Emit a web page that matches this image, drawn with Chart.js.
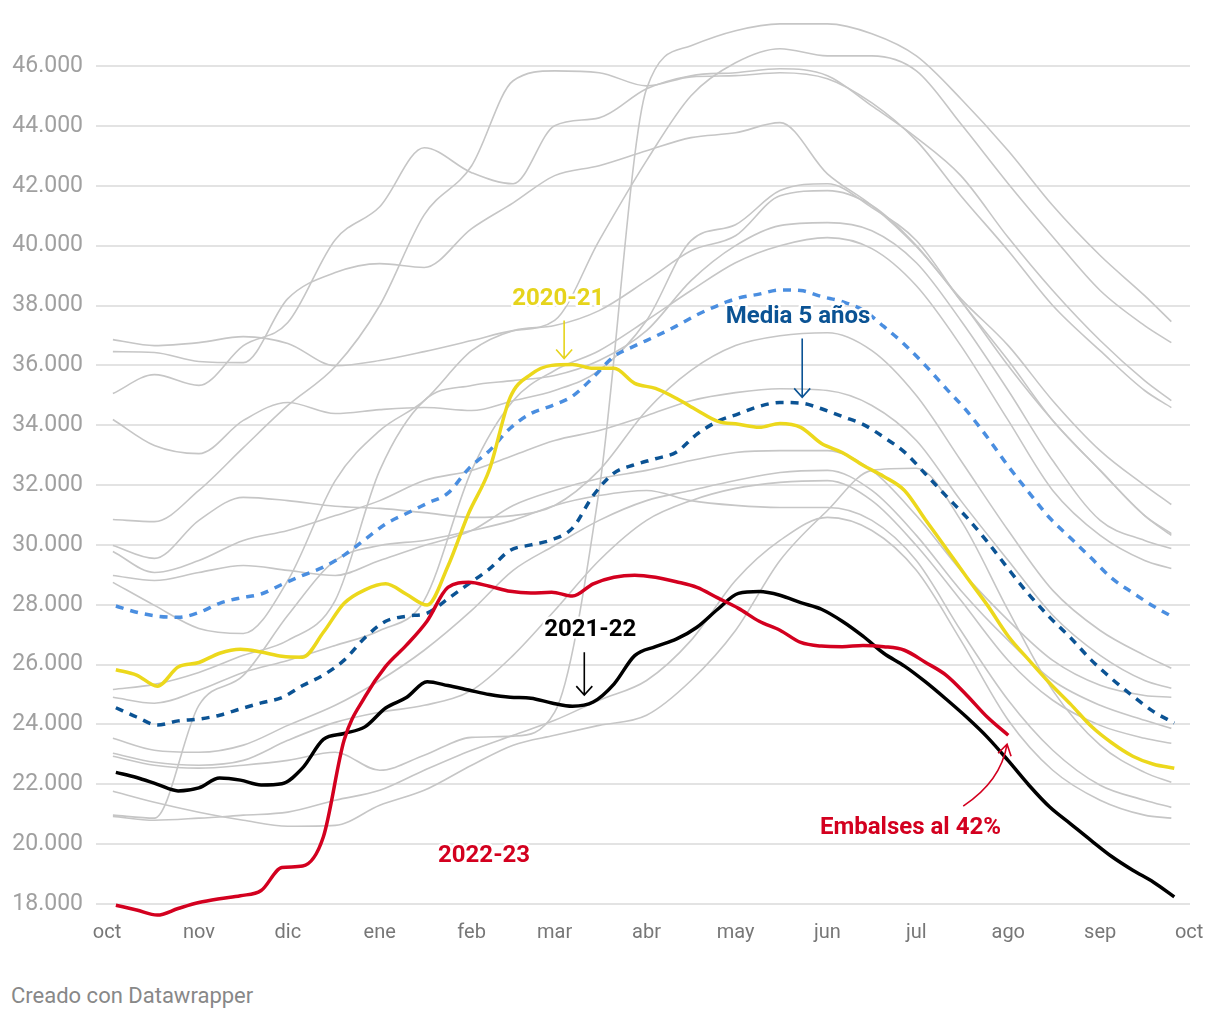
<!DOCTYPE html>
<html lang="es">
<head>
<meta charset="utf-8">
<title>Reserva hídrica</title>
<script src="https://cdn.jsdelivr.net/npm/chart.js@4.4.1/dist/chart.umd.min.js"></script>
<style>
  html, body { margin: 0; padding: 0; background: #fff; }
  .wrap { position: relative; width: 1220px; height: 950px; }
  .credit { position: absolute; left: 11px; top: 983px; font: 22px Roboto, sans-serif; color: #888; }
</style>
</head>
<body>
<div class="wrap"><canvas id="embalsesChart"></canvas></div>
<div class="credit">Creado con Datawrapper</div>
<script>
// dias desde el 1 de octubre
const dias = [3, 10, 17, 24, 31, 38, 45, 52, 59, 66, 73, 80, 87, 94, 101, 108, 115, 122, 129, 136,
  143, 150, 157, 164, 171, 178, 185, 192, 199, 206, 213, 220, 227, 234, 241, 248, 255, 262, 269, 276,
  283, 290, 297, 304, 311, 318, 325, 332, 339, 346, 353, 360];
const diasGris = [2, 16, 31, 46, 61, 77, 92, 107, 123, 137, 151, 166, 182, 197, 212, 227, 243, 258, 273, 288, 304, 319, 335, 350, 359];

const mesTicks = [0, 31, 61, 92, 123, 151, 182, 212, 243, 273, 304, 335, 365];
const mesLabels = ['oct', 'nov', 'dic', 'ene', 'feb', 'mar', 'abr', 'may', 'jun', 'jul', 'ago', 'sep', 'oct'];
const yTicks = [18000, 20000, 22000, 24000, 26000, 28000, 30000, 32000, 34000, 36000, 38000, 40000, 42000, 44000, 46000];

const temp2020 = [25830, 25650, 25280, 25920, 26070, 26380, 26510, 26420, 26280, 26250, 27080, 28050, 28500, 28700, 28350, 27990, 29290, 31060, 32520, 34930,
  35700, 36000, 36030, 35900, 35900, 35400, 35230, 34900, 34500, 34130, 34030, 33930, 34060, 33930, 33390, 33090, 32660, 32290, 31820, 30850,
  29890, 28920, 27980, 26950, 26150, 25380, 24680, 23940, 23380, 22940, 22670, 22540];
const temp2021 = [22400, 22230, 22000, 21780, 21880, 22210, 22140, 21980, 22020, 22550, 23500, 23700, 23920, 24550, 24900, 25430, 25300, 25150, 25000, 24910,
  24880, 24720, 24610, 24750, 25350, 26300, 26600, 26850, 27250, 27850, 28380, 28440, 28320, 28070, 27850, 27450, 26950, 26380, 25950, 25430,
  24850, 24240, 23570, 22790, 21970, 21240, 20680, 20120, 19580, 19130, 18730, 18240];
const temp2022 = [17960, 17800, 17630, 17850, 18050, 18180, 18280, 18450, 19220, 19270, 20250, 23480, 24920, 25940, 26650, 27460, 28580, 28750, 28620, 28450,
  28390, 28420, 28290, 28700, 28920, 28990, 28920, 28770, 28580, 28230, 27880, 27450, 27150, 26740, 26620, 26600, 26640, 26600, 26480, 26080,
  25650, 24980, 24240, 23640];
const media5 = [24560, 24250, 23980, 24120, 24180, 24310, 24520, 24720, 24900, 25300, 25650, 26150, 26900, 27450, 27620, 27720, 28200, 28700, 29200, 29820,
  30000, 30170, 30560, 31650, 32400, 32680, 32880, 33100, 33700, 34130, 34380, 34630, 34760, 34740, 34550, 34290, 34030, 33600, 33100, 32380,
  31640, 30920, 30100, 29200, 28340, 27580, 26900, 26150, 25520, 24950, 24430, 24050];
const media10 = [27960, 27750, 27620, 27580, 27740, 28050, 28230, 28360, 28680, 28980, 29260, 29660, 30180, 30700, 31050, 31390, 31730, 32550, 33150, 33900,
  34390, 34650, 34970, 35600, 36300, 36650, 36970, 37310, 37690, 38000, 38250, 38380, 38520, 38500, 38300, 38130, 37850, 37300, 36700, 36000,
  35230, 34480, 33590, 32630, 31750, 30900, 30230, 29560, 28880, 28400, 27950, 27570];

// temporadas anteriores (gris)
const anosGris = [
  [22940, 22640, 22540, 22640, 22800, 23070, 22470, 22970, 23570, 23610, 24410, 31820, 45240, 46680, 47180, 47410, 47410, 47080, 46340, 44910, 43170, 41340, 39670, 38330, 37460],
  [36460, 36430, 36130, 36090, 38230, 39100, 39400, 39270, 40570, 41430, 42340, 42670, 43170, 43610, 43770, 44110, 42400, 41340, 39970, 38230, 36660, 34820, 33150, 31990, 31350],
  [35060, 35690, 35330, 36660, 37430, 40200, 41300, 43270, 42440, 42070, 44010, 44270, 45240, 45680, 45780, 45910, 45680, 44670, 43610, 42340, 40270, 38500, 36830, 35490, 34820],
  [30850, 30780, 31820, 33250, 34660, 35960, 38000, 41030, 42670, 45510, 45840, 45780, 45340, 45640, 45680, 45780, 45580, 44770, 43510, 41670, 39830, 38000, 36490, 35160, 34590],
  [36860, 36660, 36760, 36960, 36730, 35990, 36160, 36460, 36830, 37160, 37500, 40170, 42840, 45010, 46110, 46580, 46340, 46340, 45840, 44070, 42070, 40300, 38500, 37330, 36760],
  [34190, 33320, 33050, 34160, 34760, 34390, 34520, 34590, 34490, 34820, 35160, 35830, 37500, 40170, 40700, 41840, 42070, 41270, 40170, 38160, 36160, 34160, 32490, 30980, 30380],
  [28750, 27980, 27210, 27040, 28810, 32150, 33820, 34820, 36490, 37160, 37330, 37830, 38830, 39830, 40330, 41670, 41840, 41340, 40000, 38160, 35990, 34160, 32490, 30980, 30320],
  [25170, 25340, 25740, 26310, 26810, 28150, 32490, 34820, 35330, 35490, 35660, 36160, 37160, 38830, 40000, 40670, 40770, 40500, 39430, 37500, 35160, 32820, 30820, 30150, 29880],
  [24910, 24710, 25140, 25740, 26140, 26640, 27140, 28150, 32490, 34820, 35830, 36490, 37500, 38500, 39430, 40000, 40270, 39900, 38660, 36660, 34160, 31820, 30320, 29480, 29210],
  [29980, 29550, 30820, 31590, 31480, 31290, 31220, 31080, 30920, 30980, 31320, 32490, 34490, 35830, 36660, 36990, 37090, 36490, 34990, 32820, 30480, 28480, 27140, 26310, 25880],
  [29780, 29080, 29480, 30150, 30480, 30980, 31480, 32150, 32490, 32990, 33490, 33820, 34320, 34820, 35090, 35220, 35160, 34660, 33490, 31480, 29480, 27650, 26310, 25470, 25210],
  [28980, 28810, 29080, 29310, 29150, 28980, 29480, 29980, 30480, 31320, 31820, 32220, 32490, 32820, 33090, 33150, 33150, 32490, 30980, 29150, 27480, 26140, 25310, 24970, 24910],
  [23540, 23140, 23070, 23310, 23970, 24640, 25470, 26480, 27810, 29150, 29980, 30820, 31480, 31820, 32150, 32420, 32490, 31820, 30320, 28480, 26810, 25470, 24640, 24140, 23870],
  [23040, 22740, 22640, 22800, 23470, 24070, 24410, 24640, 25140, 26310, 27810, 29480, 30820, 31480, 31890, 32090, 32150, 31480, 29980, 28150, 26140, 24810, 23970, 23540, 23370],
  [21770, 21400, 21070, 20800, 20600, 20630, 21300, 21800, 22640, 23310, 23640, 23970, 24310, 25470, 27140, 29480, 31150, 32490, 32560, 30820, 27810, 25140, 23310, 22400, 22070],
  [20970, 20870, 24640, 25640, 27650, 29480, 29980, 30150, 30480, 30820, 31320, 31650, 31820, 31480, 31320, 31250, 31250, 30820, 29480, 27140, 24810, 23140, 21970, 21470, 21230],
  [20930, 20800, 20870, 20970, 21070, 21470, 21800, 22470, 23140, 23640, 24140, 24810, 25470, 26810, 28810, 30150, 30920, 30480, 29150, 26810, 24140, 22470, 21470, 20970, 20870]
];

// anotaciones en coordenadas de datos (dia, hm3)
const etiquetas = [
  { text: '2020-21', dia: 152.2, valor: 38230, color: '#e6d41c' },
  { text: 'Media 5 años', dia: 233.1, valor: 37630, color: '#0b5394' },
  { text: '2021-22', dia: 163, valor: 27150, color: '#000000' },
  { text: '2022-23', dia: 127.2, valor: 19600, color: '#d3001f' },
  { text: 'Embalses al 42%', dia: 271, valor: 20540, color: '#d3001f' }
];
const flechas = [
  { dia: 154.2, desde: 37500, hasta: 36230, color: '#e6d41c' },
  { dia: 234.5, desde: 36900, hasta: 34930, color: '#0b5394' },
  { dia: 161, desde: 26415, hasta: 24980, color: '#000000' }
];

function toPoints(xs, ys) {
  return ys.map((y, i) => ({ x: xs[i], y: y }));
}

function formatMiles(v) {
  return String(v).replace(/\B(?=(\d{3})+(?!\d))/g, '.');
}

document.addEventListener('DOMContentLoaded', function () {
  const ctx = document.getElementById('embalsesChart').getContext('2d');

  const datasets = [];
  anosGris.forEach((serie, i) => {
    datasets.push({
      label: 'gris' + i,
      data: toPoints(diasGris, serie),
      borderColor: '#c6c6c6',
      borderWidth: 1.6,
      order: 10
    });
  });
  datasets.push({ label: 'Media 10 años', data: toPoints(dias, media10), borderColor: '#4a8ee0', borderWidth: 3.5, borderDash: [8, 7], order: 6 });
  datasets.push({ label: 'Media 5 años', data: toPoints(dias, media5), borderColor: '#0b5394', borderWidth: 3.5, borderDash: [8, 7], order: 5 });
  datasets.push({ label: '2020-21', data: toPoints(dias, temp2020), borderColor: '#ecd81c', borderWidth: 3.5, order: 4 });
  datasets.push({ label: '2021-22', data: toPoints(dias, temp2021), borderColor: '#000000', borderWidth: 3.5, order: 3 });
  datasets.push({ label: '2022-23', data: toPoints(dias, temp2022), borderColor: '#d3001f', borderWidth: 3.5, order: 2 });
  datasets.forEach(d => { d.clip = 12; });

  const anotaciones = {
    id: 'anotaciones',
    afterDatasetsDraw(chart) {
      const c = chart.ctx;
      const xs = chart.scales.x;
      const ys = chart.scales.y;
      c.save();

      // flechas rectas
      c.lineWidth = 1.6;
      flechas.forEach(f => {
        const x = xs.getPixelForValue(f.dia);
        const y0 = ys.getPixelForValue(f.desde);
        const y1 = ys.getPixelForValue(f.hasta);
        c.strokeStyle = f.color;
        c.beginPath();
        c.moveTo(x, y0);
        c.lineTo(x, y1);
        c.moveTo(x - 8, y1 - 9);
        c.lineTo(x, y1);
        c.lineTo(x + 8, y1 - 9);
        c.stroke();
      });

      // flecha curva roja
      const x0 = xs.getPixelForValue(288.8), y0 = ys.getPixelForValue(21270);
      const cx = xs.getPixelForValue(301.5), cy = ys.getPixelForValue(22100);
      const x1 = xs.getPixelForValue(303.6), y1 = ys.getPixelForValue(23340);
      c.strokeStyle = '#d3001f';
      c.beginPath();
      c.moveTo(x0, y0);
      c.quadraticCurveTo(cx, cy, x1, y1);
      c.moveTo(x1 - 9, y1 + 9);
      c.lineTo(x1, y1);
      c.lineTo(x1 + 4, y1 + 12);
      c.stroke();

      // textos
      c.font = 'bold 24px Roboto';
      c.textAlign = 'center';
      c.textBaseline = 'middle';
      c.lineJoin = 'round';
      etiquetas.forEach(e => {
        const x = xs.getPixelForValue(e.dia);
        const y = ys.getPixelForValue(e.valor);
        c.lineWidth = 5;
        c.strokeStyle = '#ffffff';
        c.strokeText(e.text, x, y);
        c.fillStyle = e.color;
        c.fillText(e.text, x, y);
      });
      c.restore();
    }
  };

  const embalsesChart = new Chart(ctx, {
    type: 'line',
    data: { datasets: datasets },
    options: {
      responsive: true,
      maintainAspectRatio: false,
      animation: false,
      layout: { padding: { top: 0, right: 30, bottom: 0, left: 0 } },
      elements: {
        point: { radius: 0 },
        line: { cubicInterpolationMode: 'monotone', fill: false, borderCapStyle: 'butt' }
      },
      plugins: {
        legend: { display: false },
        tooltip: { enabled: false }
      },
      scales: {
        x: {
          type: 'linear',
          min: -3.7,
          max: 365.3,
          grid: { display: false, drawTicks: false },
          border: { display: false },
          afterBuildTicks: scale => { scale.ticks = mesTicks.map(v => ({ value: v })); },
          afterFit: scale => { scale.height = 31; },
          ticks: {
            autoSkip: false,
            maxRotation: 0,
            padding: 2,
            color: '#777777',
            font: { family: 'Roboto', size: 20 },
            callback: v => mesLabels[mesTicks.indexOf(v)]
          }
        },
        y: {
          min: 17500,
          max: 47390,
          grid: { color: '#e3e3e3', lineWidth: 2, drawTicks: false },
          border: { display: false },
          afterBuildTicks: scale => { scale.ticks = yTicks.map(v => ({ value: v })); },
          afterFit: scale => { scale.width = 96; },
          ticks: {
            padding: 13,
            color: '#a0a0a0',
            font: { family: 'Roboto', size: 23, lineHeight: 1 },
            callback: v => formatMiles(v)
          }
        }
      }
    },
    plugins: [anotaciones]
  });
});
</script>
</body>
</html>
